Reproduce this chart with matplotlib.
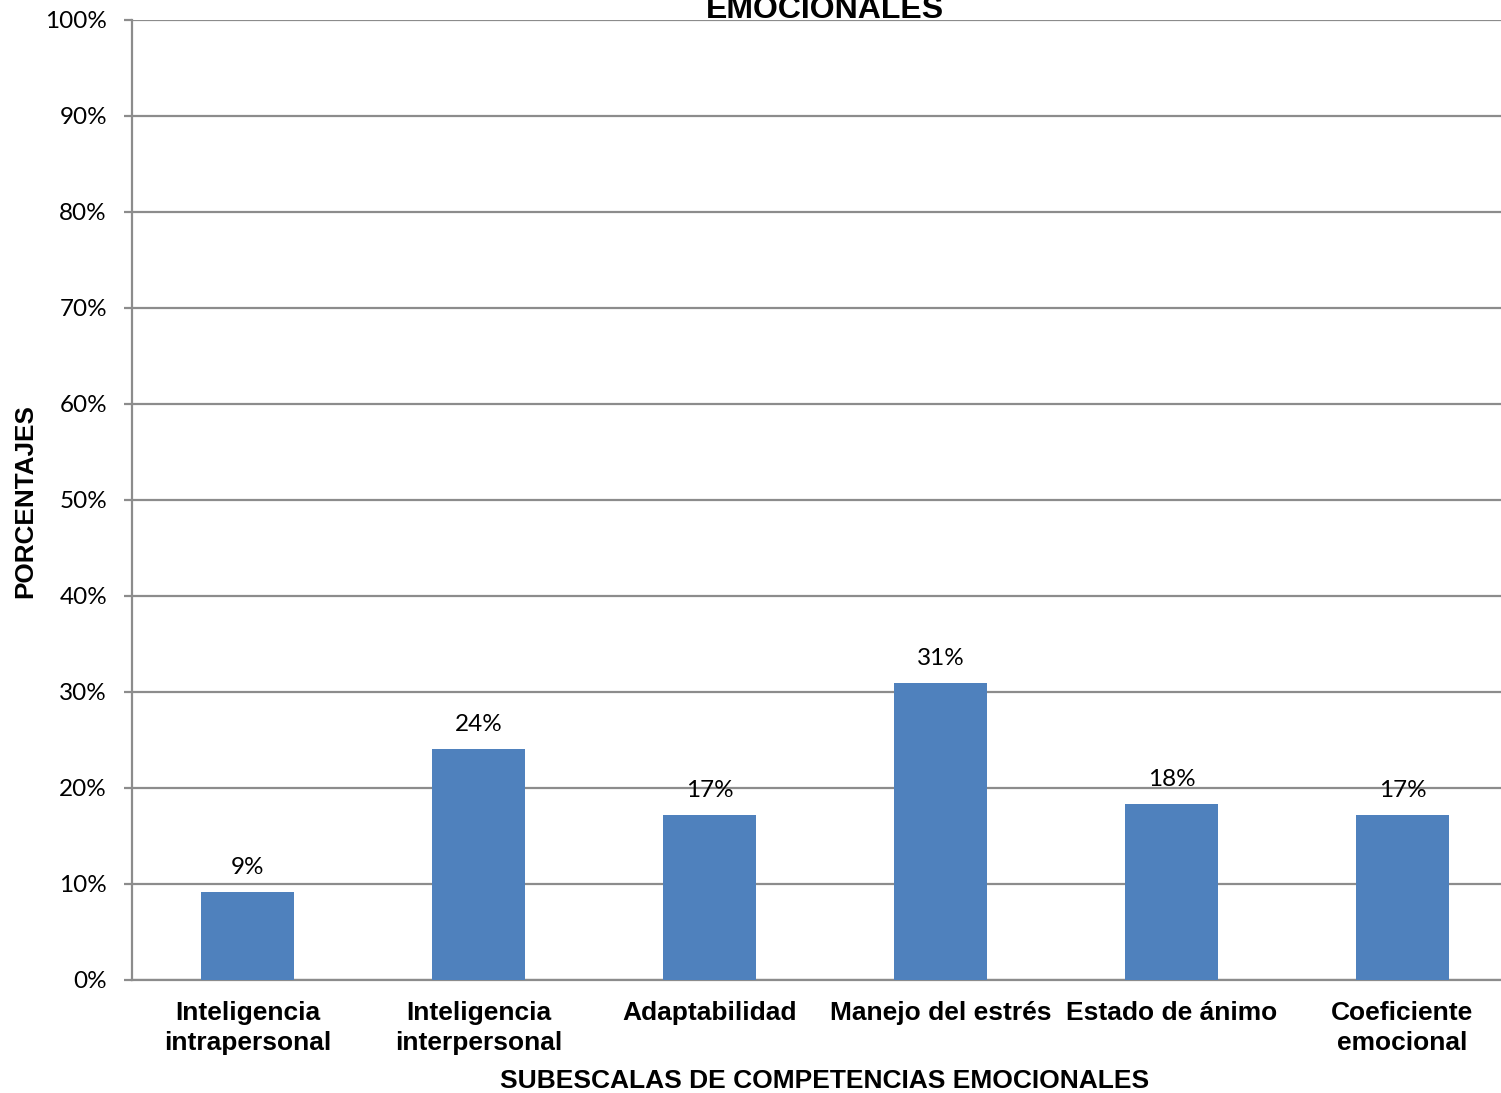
import matplotlib.pyplot as plt

categories = ["Inteligencia\nintrapersonal", "Inteligencia\ninterpersonal", "Adaptabilidad",
              "Manejo del estrés", "Estado de ánimo", "Coeficiente\nemocional"]
values = [9.2, 24.1, 17.2, 30.9, 18.3, 17.2]
labels = ["9%", "24%", "17%", "31%", "18%", "17%"]
yticks = list(range(0, 101, 10))

W, H = 1501, 1093
fig = plt.figure(figsize=(W / 100, H / 100), dpi=100)
ax = fig.add_axes([132 / W, (H - 980) / H, (1518 - 132) / W, 960 / H])

grid = "#8c8c8c"
x = range(len(categories))
ax.bar(x, values, width=0.4, color="#4f81bd", zorder=3)
for xi, v, t in zip(x, values, labels):
    ax.annotate(t, (xi, v), xytext=(0, 10), textcoords="offset points",
                ha="center", va="bottom", fontsize=17.5, family="Lato")

ax.set_xlim(-0.5, 5.5)
ax.set_ylim(0, 100)
ax.set_yticks(yticks)
ax.set_yticklabels([f"{t}%" for t in yticks], fontsize=17.5, family="Lato")
ax.yaxis.grid(True, color=grid, linewidth=1.6, zorder=0)
ax.set_xticks(list(x))
ax.set_xticklabels(categories, fontsize=19, fontweight="bold",
                   family="Liberation Sans", linespacing=1.3)
ax.tick_params(axis="x", length=0, pad=15)
ax.tick_params(axis="y", length=6, width=1.6, color=grid, pad=12)

for s in ["top", "right"]:
    ax.spines[s].set_visible(False)
for s in ["left", "bottom"]:
    ax.spines[s].set_color(grid)
    ax.spines[s].set_linewidth(1.6)

# title is cut off at the top edge, as in the source image
fig.text(825 / W, 1 - 18 / H, "EMOCIONALES", ha="center", va="baseline",
         fontsize=23, fontweight="bold", family="Liberation Sans")
fig.text(825 / W, 1 - 1081 / H, "SUBESCALAS DE COMPETENCIAS EMOCIONALES", ha="center",
         va="center", fontsize=19, fontweight="bold", family="Liberation Sans")
fig.text(25 / W, 1 - 501 / H, "PORCENTAJES", ha="center", va="center", rotation=90,
         fontsize=18.8, fontweight="bold", family="Liberation Sans")

fig.savefig("out.png", dpi=100)
